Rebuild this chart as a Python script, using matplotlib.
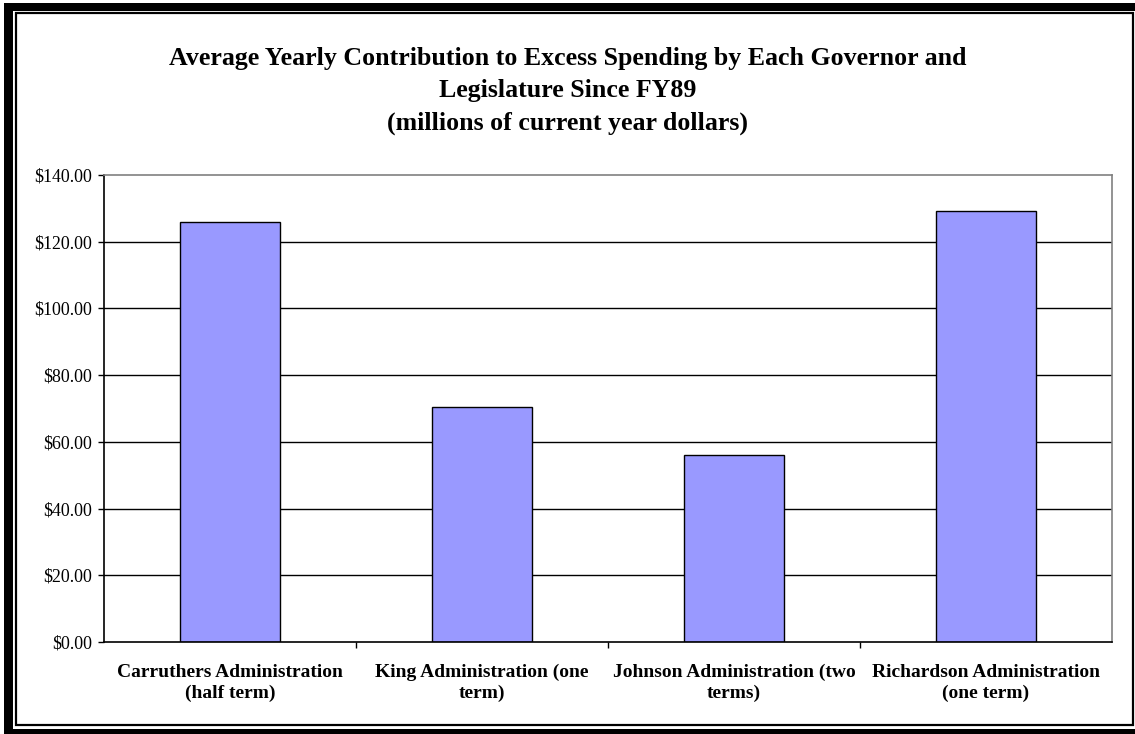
import matplotlib
matplotlib.use("Agg")
import matplotlib.pyplot as plt
from matplotlib.patches import Rectangle
from matplotlib.ticker import FuncFormatter, FixedLocator

categories = ["Carruthers Administration\n(half term)",
              "King Administration (one\nterm)",
              "Johnson Administration (two\nterms)",
              "Richardson Administration\n(one term)"]
values = [125.9, 70.4, 56.1, 129.2]
yticks = [0, 20, 40, 60, 80, 100, 120, 140]
title = ("Average Yearly Contribution to Excess Spending by Each Governor and\n"
         "Legislature Since FY89\n(millions of current year dollars)")

W, H = 1135, 734
fig = plt.figure(figsize=(W / 100, H / 100), dpi=100)
fig.patch.set_facecolor("white")
serif = ["Liberation Serif", "DejaVu Serif"]

def fx(x):
    return x / W

def fy(y):
    return 1 - y / H

# frame
def rect_px(x0, y0, x1, y1, **kw):
    fig.add_artist(Rectangle((fx(x0), fy(y1)), fx(x1) - fx(x0), fy(y0) - fy(y1),
                             transform=fig.transFigure, **kw))

rect_px(4, 3, 12.5, 736, facecolor="black", edgecolor="none")
rect_px(4, 3, 1140, 10.5, facecolor="black", edgecolor="none")
rect_px(4, 728.5, 1140, 736, facecolor="black", edgecolor="none")
rect_px(16, 13, 1133, 725, facecolor="none", edgecolor="black", linewidth=1.6)

ax = fig.add_axes([fx(104), fy(642), fx(1112) - fx(104), fy(175) - fy(642)])
x = list(range(len(categories)))
ax.bar(x, values, width=0.4, color="#9999FF", edgecolor="black", linewidth=1.0, zorder=3)
ax.set_xlim(-0.5, len(categories) - 0.5)
ax.set_ylim(0, 140)

ax.yaxis.set_major_locator(FixedLocator(yticks))
ax.yaxis.set_major_formatter(FuncFormatter(lambda v, p: f"${v:,.2f}"))
ax.set_xticks(x)
ax.set_xticklabels(categories, fontfamily=serif, fontweight="bold", fontsize=14,
                   linespacing=1.32)
ax.tick_params(axis="x", length=0, pad=15.5)
ax.set_xticks([i + 0.5 for i in x[:-1]], minor=True)
ax.tick_params(axis="x", which="minor", length=4, width=1, direction="out")
ax.tick_params(axis="y", length=4.5, width=1, direction="out", pad=4, labelsize=12.9)
for lab in ax.get_yticklabels():
    lab.set_fontfamily(serif)

for v in yticks[1:-1]:
    ax.axhline(v, color="black", linewidth=1.0, zorder=1)

ax.spines["left"].set_color("black")
ax.spines["bottom"].set_color("black")
ax.spines["top"].set_color("#808080")
ax.spines["right"].set_color("#808080")
for s in ax.spines.values():
    s.set_linewidth(1.2)
ax.spines["bottom"].set_zorder(4)

fig.text(0.5, fy(91), title, ha="center", va="center", fontfamily=serif,
         fontweight="bold", fontsize=18.6, linespacing=1.52)

fig.savefig("out.png", dpi=100, facecolor="white")
